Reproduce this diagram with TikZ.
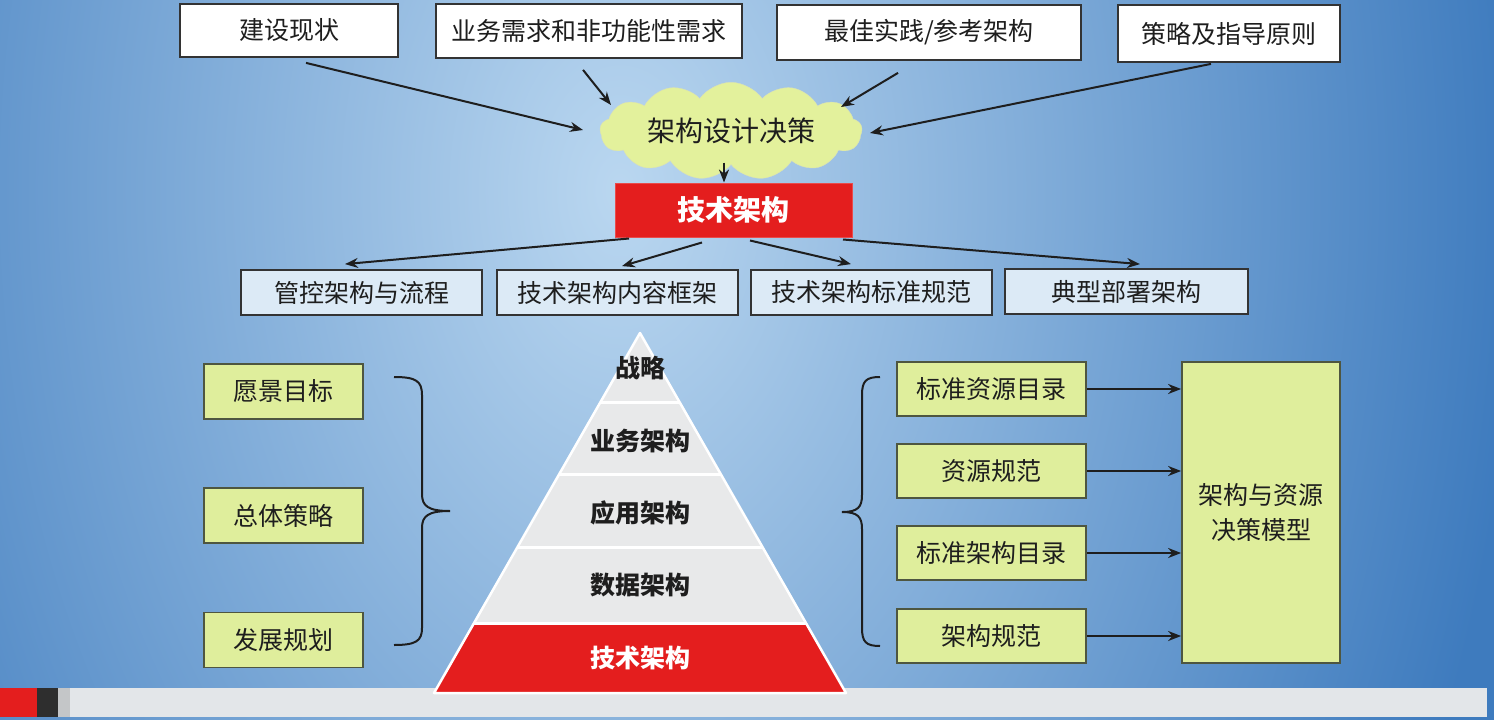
\documentclass[tikz,border=0pt]{standalone}
\usepackage{fontspec}
\setmainfont{Noto Sans CJK SC}
\usetikzlibrary{shapes.symbols,arrows.meta,calc}
\definecolor{bgin}{HTML}{BAD7F0}
\definecolor{bgout}{HTML}{3E7BBE}
\definecolor{txt}{HTML}{1E1E1E}
\definecolor{boxline}{HTML}{333333}
\definecolor{rowfill}{HTML}{DCEAF6}
\definecolor{greenfill}{HTML}{DFEE9C}
\definecolor{greenline}{HTML}{4E5640}
\definecolor{cloudfill}{HTML}{E3F19C}
\definecolor{redfill}{HTML}{E41E1E}
\definecolor{pyrgray}{HTML}{E8E9EA}
\definecolor{barfill}{HTML}{E3E6E9}
\definecolor{barblack}{HTML}{2E2E2E}
\definecolor{bargray}{HTML}{C4C6C8}
\begin{document}
\begin{tikzpicture}[x=1pt,y=-1pt,
  txtfont/.style={font=\fontsize{25}{30}\selectfont, text=txt},
  topbox/.style={draw=boxline, line width=1.8pt, fill=white, inner sep=0pt, txtfont},
  rowbox/.style={draw=boxline, line width=1.8pt, fill=rowfill, inner sep=0pt, txtfont, minimum width=241pt, minimum height=45pt},
  greenbox/.style={draw=greenline, line width=1.8pt, fill=greenfill, inner sep=0pt, txtfont},
  pyrtext/.style={font=\fontsize{25}{30}\selectfont\bfseries, text=txt, inner sep=0pt},
  arr/.style={-{Stealth[length=13pt,width=10pt]}, line width=2pt, draw=txt},
  bracestyle/.style={line width=2pt, draw=txt}
]
\useasboundingbox (0,0) rectangle (1494,720);
% background
\begin{scope}
\clip (0,0) rectangle (1494,720);
\fill[bgout] (0,0) rectangle (1494,720);
\shade[inner color=bgin, outer color=bgout] (620,190) ellipse [x radius=900, y radius=1350];
\end{scope}
% bottom bar
\fill[barfill] (0,688) rectangle (1487,717);
\fill[redfill] (0,688) rectangle (37,717);
\fill[barblack] (37,688) rectangle (58,717);
\fill[bargray] (58,688) rectangle (70,717);

% top boxes
\node[topbox, minimum width=218pt, minimum height=53pt] (b1) at (289,30.5) {建设现状};
\node[topbox, minimum width=306pt, minimum height=54pt] (b2) at (589,31) {业务需求和非功能性需求};
\node[topbox, minimum width=304pt, minimum height=55pt] (b3) at (929,32.5) {最佳实践/参考架构};
\node[topbox, minimum width=222pt, minimum height=57pt] (b4) at (1229,33.5) {策略及指导原则};

% cloud
\node[cloud, cloud puffs=13, cloud puff arc=110, aspect=3.4, fill=cloudfill, draw=cloudfill!85!black!60, line width=0.4pt,
      minimum width=262pt, minimum height=78pt, inner sep=0pt, font=\fontsize{28}{32}\selectfont, text=txt] (cloud) at (731,131) {架构设计决策};

% red box
\node[fill=redfill, draw=redfill!80!white, line width=1pt, minimum width=237pt, minimum height=54pt, inner sep=0pt,
      font=\fontsize{28}{32}\selectfont\bfseries, text=white] (red) at (733.5,210) {技术架构};

% row boxes
\node[rowbox] (r1) at (361.5,292.5) {管控架构与流程};
\node[rowbox] (r2) at (617.5,292.5) {技术架构内容框架};
\node[rowbox] (r3) at (871.5,292.5) {技术架构标准规范};
\node[rowbox, minimum width=243pt] (r4) at (1126.5,291.5) {典型部署架构};

% arrows top -> cloud
\draw[arr] ([xshift=17,yshift=-5]b1.south) -- ([xshift=-148,yshift=1]cloud.center);
\draw[arr] ([xshift=-6,yshift=-11]b2.south) -- ([xshift=-120,yshift=26]cloud.center);
\draw[arr] ([xshift=-31,yshift=-12]b3.south) -- ([xshift=110,yshift=24]cloud.center);
\draw[arr] ([xshift=-18,yshift=-1]b4.south) -- ([xshift=139,yshift=-2]cloud.center);
% cloud -> red
\draw[arr] ([xshift=-9.5,yshift=20]red.north) -- ([xshift=-9.5]red.north);
% red -> rows
\draw[arr] ([xshift=-104.5,yshift=-1]red.south) -- ([xshift=-16.5,yshift=5]r1.north);
\draw[arr] ([xshift=-31.5,yshift=-5]red.south) -- ([xshift=4.5,yshift=3]r2.north);
\draw[arr] ([xshift=16.5,yshift=-3]red.south) -- ([xshift=-20.5,yshift=5]r3.north);
\draw[arr] ([xshift=109.5,yshift=-2]red.south) -- ([xshift=13.5,yshift=4]r4.north);

% pyramid
\coordinate (apex) at (640,333);
\coordinate (bl) at (434,693);
\coordinate (br) at (846,693);
\fill[pyrgray] (apex) -- (bl) -- (br) -- cycle;
\fill[redfill] ($(apex)!0.8056!(bl)$) -- (bl) -- (br) -- ($(apex)!0.8056!(br)$) -- cycle;
\foreach \f in {0.1944,0.3944,0.5972,0.8056}{
  \draw[white, line width=3pt] ($(apex)!\f!(bl)$) -- ($(apex)!\f!(br)$);
}
\draw[white, line width=2.5pt, line join=round] (apex) -- (bl) -- (br) -- cycle;
\node[pyrtext] (p1) at (640,368) {战略};
\node[pyrtext] (p2) at (640,441) {业务架构};
\node[pyrtext] (p3) at (640,513) {应用架构};
\node[pyrtext] (p4) at (640,585) {数据架构};
\node[pyrtext, text=white] (p5) at (640,658) {技术架构};

% left green boxes
\node[greenbox, minimum width=159pt, minimum height=55pt] (l1) at (283.5,391.5) {愿景目标};
\node[greenbox, minimum width=159pt, minimum height=55pt] (l2) at (283.5,515.5) {总体策略};
\node[greenbox, minimum width=159pt, minimum height=55pt] (l3) at (283.5,640) {发展规划};

% left brace
\draw[bracestyle] (394,377) .. controls (416,377) and (422,381) .. (422,395) -- (422,494)
  .. controls (422,506) and (428,511) .. (450,511)
  .. controls (428,511) and (422,516) .. (422,528) -- (422,628)
  .. controls (422,641) and (416,645) .. (394,645);

% right brace
\draw[bracestyle] (880,377) .. controls (866,377) and (862,381) .. (862,395) -- (862,495)
  .. controls (862,507) and (858,512) .. (842,512)
  .. controls (858,512) and (862,517) .. (862,529) -- (862,628)
  .. controls (862,642) and (866,646) .. (880,646);

% right green boxes
\node[greenbox, minimum width=189pt, minimum height=54pt] (g1) at (991.5,389) {标准资源目录};
\node[greenbox, minimum width=189pt, minimum height=54pt] (g2) at (991.5,471) {资源规范};
\node[greenbox, minimum width=189pt, minimum height=54pt] (g3) at (991.5,553) {标准架构目录};
\node[greenbox, minimum width=189pt, minimum height=54pt] (g4) at (991.5,636) {架构规范};
\node[greenbox, minimum width=158pt, minimum height=301pt, align=center] (big) at (1261,512.5)
  {架构与资源\\[5pt]决策模型};

\foreach \g in {g1,g2,g3,g4}{
  \draw[arr] (\g.east) -- (\g.east -| big.west);
}
\end{tikzpicture}
\end{document}
